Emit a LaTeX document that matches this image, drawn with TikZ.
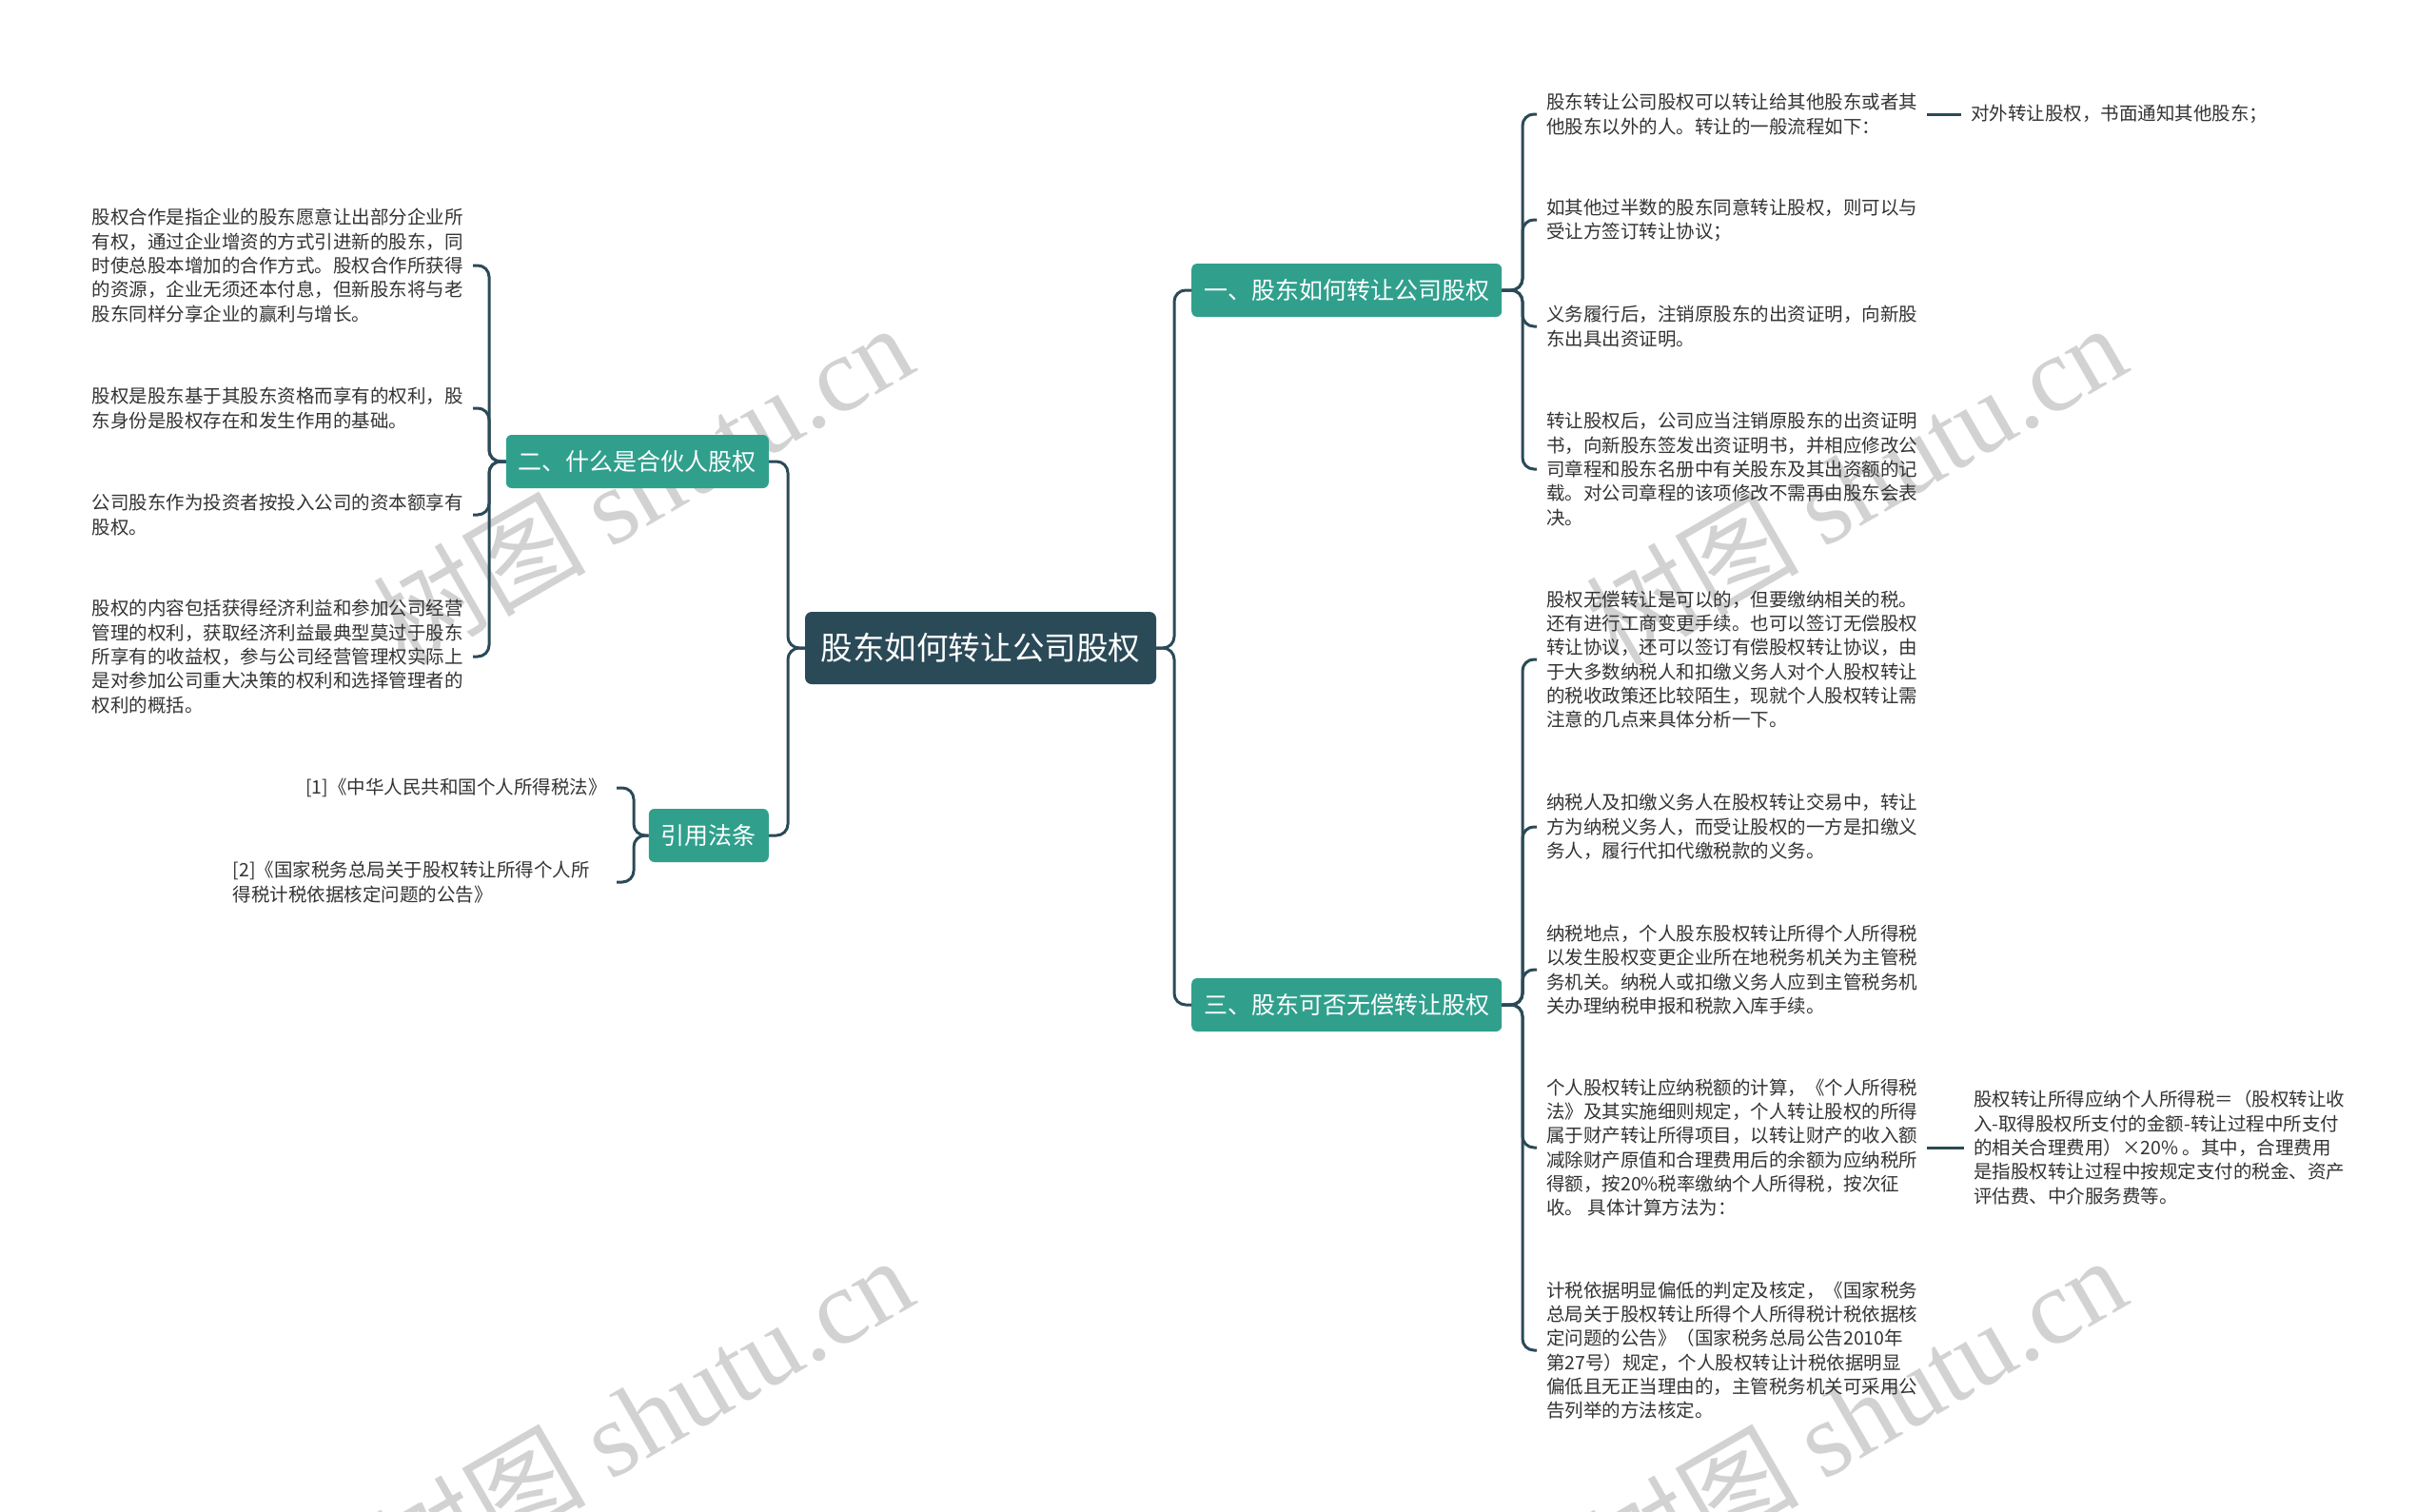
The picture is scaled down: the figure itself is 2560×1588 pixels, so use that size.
\documentclass[tikz,border=0pt]{standalone}
\usepackage{fontspec}
\setmainfont{Noto Sans CJK SC}
\newfontfamily\wmserif{Liberation Serif}
\newfontfamily\wmcjk{Noto Sans CJK SC}
\definecolor{rootc}{HTML}{2B4A58}
\definecolor{brc}{HTML}{30A08D}
\definecolor{linec}{HTML}{2B4A58}
\definecolor{txtc}{HTML}{333333}
\definecolor{wmc}{HTML}{C4C4C4}
\tikzset{
  conn/.style={draw=linec, line width=3pt, rounded corners=12pt},
  rootbox/.style={fill=rootc, text=white, rounded corners=7pt, minimum width=369pt, minimum height=76pt, inner sep=0pt, font=\fontsize{33.6}{40}\selectfont},
  mainbox/.style={fill=brc, text=white, rounded corners=6pt, minimum height=56pt, inner xsep=13pt, inner ysep=0pt, font=\fontsize{25}{30}\selectfont},
  leaf/.style={text=txtc, align=left, inner xsep=10pt, inner ysep=2pt, font=\fontsize{19.5}{25.3}\selectfont},
  wm/.style={text=wmc, opacity=0.75, rotate=30, inner sep=0pt, font=\fontsize{112}{120}\selectfont}
}
\begin{document}
\begin{tikzpicture}[x=1pt,y=-1pt]
\useasboundingbox (0,0) rectangle (2560,1588);
\fill[white] (0,0) rectangle (2560,1588);

% watermarks
\node[wm] (w1) at (675,508) {{\wmcjk 树图} {\wmserif shutu.cn}};
\node[wm] (w2) at (1950,508) {{\wmcjk 树图} {\wmserif shutu.cn}};
\node[wm] (w3) at (675,1488) {{\wmcjk 树图} {\wmserif shutu.cn}};
\node[wm] (w4) at (1950,1488) {{\wmcjk 树图} {\wmserif shutu.cn}};

% spine coordinates
\coordinate (sR) at (1234,0);
\coordinate (sL) at (828,0);
\coordinate (s1) at (1600,0);
\coordinate (s2) at (514,0);
\coordinate (s3) at (1600,0);
\coordinate (s4) at (666,0);

% root and main branches
\node[rootbox] (root) at (1030.5,681) {股东如何转让公司股权};
\node[mainbox, anchor=west] (n1) at (1252,305) {一、股东如何转让公司股权};
\node[mainbox, anchor=west] (n3) at (1252,1056) {三、股东可否无偿转让股权};
\node[mainbox, anchor=east] (n2) at (808,485) {二、什么是合伙人股权};
\node[mainbox, anchor=east] (n4) at (808,878) {引用法条};

% left group 二
\node[leaf, anchor=east] (b1) at (497,279) {股权合作是指企业的股东愿意让出部分企业所\\有权，通过企业增资的方式引进新的股东，同\\时使总股本增加的合作方式。股权合作所获得\\的资源，企业无须还本付息，但新股东将与老\\股东同样分享企业的赢利与增长。};
\node[leaf, anchor=east] (b2) at (497,429) {股权是股东基于其股东资格而享有的权利，股\\东身份是股权存在和发生作用的基础。};
\node[leaf, anchor=east] (b3) at (497,541) {公司股东作为投资者按投入公司的资本额享有\\股权。};
\node[leaf, anchor=east] (b4) at (497,690) {股权的内容包括获得经济利益和参加公司经营\\管理的权利，获取经济利益最典型莫过于股东\\所享有的收益权，参与公司经营管理权实际上\\是对参加公司重大决策的权利和选择管理者的\\权利的概括。};

% references
\node[leaf, anchor=east] (r1) at (648,828) {[1]《中华人民共和国个人所得税法》};
\node[leaf, anchor=east, text width=393pt] (r2) at (648,927) {[2]《国家税务总局关于股权转让所得个人所\\得税计税依据核定问题的公告》};

% right group 一
\node[leaf, anchor=west] (c1) at (1615,120) {股东转让公司股权可以转让给其他股东或者其\\他股东以外的人。转让的一般流程如下：};
\node[leaf, anchor=west] (c1a) at (2061,120) {对外转让股权，书面通知其他股东；};
\node[leaf, anchor=west] (c2) at (1615,231) {如其他过半数的股东同意转让股权，则可以与\\受让方签订转让协议；};
\node[leaf, anchor=west] (c3) at (1615,343) {义务履行后，注销原股东的出资证明，向新股\\东出具出资证明。};
\node[leaf, anchor=west] (c4) at (1615,493) {转让股权后，公司应当注销原股东的出资证明\\书，向新股东签发出资证明书，并相应修改公\\司章程和股东名册中有关股东及其出资额的记\\载。对公司章程的该项修改不需再由股东会表\\决。};

% right group 三
\node[leaf, anchor=west] (d1) at (1615,693) {股权无偿转让是可以的，但要缴纳相关的税。\\还有进行工商变更手续。也可以签订无偿股权\\转让协议，还可以签订有偿股权转让协议，由\\于大多数纳税人和扣缴义务人对个人股权转让\\的税收政策还比较陌生，现就个人股权转让需\\注意的几点来具体分析一下。};
\node[leaf, anchor=west] (d2) at (1615,869) {纳税人及扣缴义务人在股权转让交易中，转让\\方为纳税义务人，而受让股权的一方是扣缴义\\务人，履行代扣代缴税款的义务。};
\node[leaf, anchor=west] (d3) at (1615,1019) {纳税地点，个人股东股权转让所得个人所得税\\以发生股权变更企业所在地税务机关为主管税\\务机关。纳税人或扣缴义务人应到主管税务机\\关办理纳税申报和税款入库手续。};
\node[leaf, anchor=west] (d4) at (1615,1206) {个人股权转让应纳税额的计算，《个人所得税\\法》及其实施细则规定，个人转让股权的所得\\属于财产转让所得项目，以转让财产的收入额\\减除财产原值和合理费用后的余额为应纳税所\\得额，按20\%税率缴纳个人所得税，按次征\\收。 具体计算方法为：};
\node[leaf, anchor=west] (d4a) at (2064,1206) {股权转让所得应纳个人所得税＝（股权转让收\\入-取得股权所支付的金额-转让过程中所支付\\的相关合理费用）×20\% 。其中，合理费用\\是指股权转让过程中按规定支付的税金、资产\\评估费、中介服务费等。};
\node[leaf, anchor=west] (d5) at (1615,1419) {计税依据明显偏低的判定及核定，《国家税务\\总局关于股权转让所得个人所得税计税依据核\\定问题的公告》（国家税务总局公告2010年\\第27号）规定，个人股权转让计税依据明显\\偏低且无正当理由的，主管税务机关可采用公\\告列举的方法核定。};

% connectors: root to main branches
\draw[conn] (root.east) -- (root.east -| sR) |- (n1.west);
\draw[conn] (root.east) -- (root.east -| sR) |- (n3.west);
\draw[conn] (root.west) -- (root.west -| sL) |- (n2.east);
\draw[conn] (root.west) -- (root.west -| sL) |- (n4.east);

% group 一
\foreach \c in {c1,c2,c3,c4}
  \draw[conn] (n1.east) -- (n1.east -| s1) |- (\c.west);
\draw[conn] (c1.east) -- (c1a.west);

% group 三
\foreach \c in {d1,d2,d3,d4,d5}
  \draw[conn] (n3.east) -- (n3.east -| s3) |- (\c.west);
\draw[conn] (d4.east) -- (d4a.west);

% group 二
\foreach \c in {b1,b2,b3,b4}
  \draw[conn] (n2.west) -- (n2.west -| s2) |- (\c.east);

% references
\foreach \c in {r1,r2}
  \draw[conn] (n4.west) -- (n4.west -| s4) |- (\c.east);
\end{tikzpicture}
\end{document}
